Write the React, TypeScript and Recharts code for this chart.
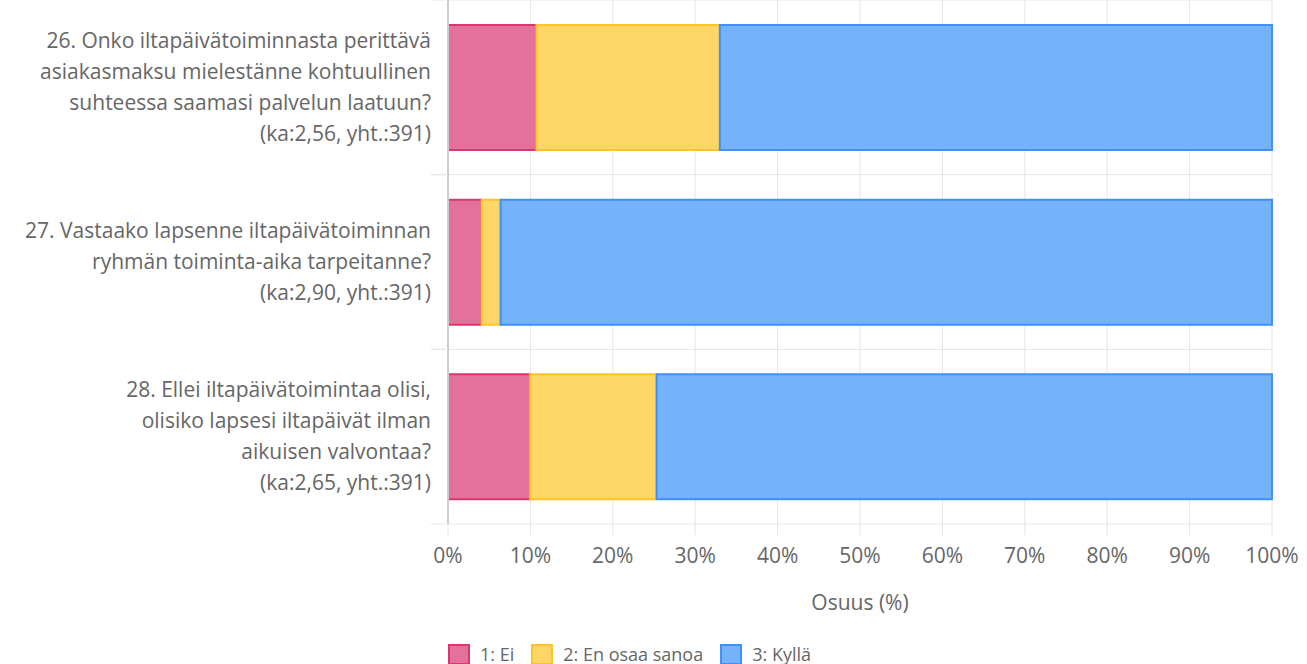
import React from 'react';
import { BarChart, Bar, XAxis, YAxis, CartesianGrid, Legend } from 'recharts';

const questions = [
  ['26. Onko iltapäivätoiminnasta perittävä', 'asiakasmaksu mielestänne kohtuullinen', 'suhteessa saamasi palvelun laatuun?', '(ka:2,56, yht.:391)'],
  ['27. Vastaako lapsenne iltapäivätoiminnan', 'ryhmän toiminta-aika tarpeitanne?', '(ka:2,90, yht.:391)'],
  ['28. Ellei iltapäivätoimintaa olisi,', 'olisiko lapsesi iltapäivät ilman', 'aikuisen valvontaa?', '(ka:2,65, yht.:391)'],
];
const ei = [10.74, 4.09, 9.97];
const enOsaa = [22.25, 2.3, 15.35];
const kylla = [67.01, 93.61, 74.68];
const seriesNames = ['1: Ei', '2: En osaa sanoa', '3: Kyllä'];
const xTicks = [0, 10, 20, 30, 40, 50, 60, 70, 80, 90, 100];

const fills = ['#e3719c', '#fed567', '#74b3fc'];
const strokes = ['#d9376e', '#fcc526', '#3f8ffc'];

const CHART_W = 1307;
const CHART_H = 664;
const X_AXIS_H = 140;
const MARGIN_TOP = 0;
const PLOT_H = CHART_H - X_AXIS_H - MARGIN_TOP;
const FONT = '"Open Sans", sans-serif';

const data = questions.map((q, i) => ({
  name: String(i),
  ei: ei[i],
  en: enOsaa[i],
  kylla: kylla[i],
}));

const CategoryTick = (props: any) => {
  const { x, y, payload } = props;
  const lines = questions[Number(payload.value)] || [];
  const band = PLOT_H / questions.length;
  const lh = 31;
  const n = lines.length;
  return (
    <g>
      <line x1={x} x2={x + 17} y1={y - band / 2} y2={y - band / 2} stroke="#e6e6e6" strokeWidth={1} />
      <line x1={x} x2={x + 17} y1={y + band / 2} y2={y + band / 2} stroke="#e6e6e6" strokeWidth={1} />
      <text x={x} y={y} textAnchor="end" fill="#666" fontSize={21} fontFamily={FONT}>
        {lines.map((l, i) => (
          <tspan key={i} x={x} y={y + (i - (n - 1) / 2) * lh + 7}>
            {l}
          </tspan>
        ))}
      </text>
    </g>
  );
};

const LegendContent = () => (
  <div style={{ display: 'flex', alignItems: 'center', fontFamily: FONT, fontSize: 18, color: '#666' }}>
    {seriesNames.map((s, i) => (
      <div key={s} style={{ display: 'flex', alignItems: 'center', marginRight: 17 }}>
        <div
          style={{
            width: 22,
            height: 21,
            boxSizing: 'border-box',
            background: fills[i],
            border: `2px solid ${strokes[i]}`,
            marginRight: 10,
          }}
        />
        <span>{s}</span>
      </div>
    ))}
  </div>
);

export default function App() {
  return (
    <div style={{ position: 'absolute', left: 0, top: 0, fontFamily: FONT }}>
      <BarChart
        width={CHART_W}
        height={CHART_H}
        data={data}
        layout="vertical"
        margin={{ top: MARGIN_TOP, right: 35, bottom: 0, left: 0 }}
      >
        <CartesianGrid
          stroke="#e6e6e6"
          vertical={true}
          horizontal={true}
          horizontalCoordinatesGenerator={({ offset }: any) =>
            Array.from({ length: questions.length + 1 }, (_, i) => offset.top + (i * offset.height) / questions.length)
          }
        />
        <XAxis
          type="number"
          domain={[0, 100]}
          ticks={xTicks}
          tickFormatter={(v: number) => `${v}%`}
          height={X_AXIS_H}
          axisLine={false}
          tickLine={{ stroke: '#e6e6e6' }}
          tickSize={11}
          tickMargin={13}
          tick={{ fill: '#666', fontSize: 21, fontFamily: FONT }}
          interval={0}
          label={{ value: 'Osuus (%)', position: 'insideBottom', offset: 54, fill: '#666', fontSize: 21, fontFamily: FONT }}
        />
        <YAxis
          type="category"
          dataKey="name"
          width={448}
          axisLine={{ stroke: '#ccc', strokeWidth: 2 }}
          tickLine={false}
          tickSize={0}
          tickMargin={17}
          tick={<CategoryTick />}
          interval={0}
        />
        <Bar dataKey="ei" stackId="a" barSize={125} fill={fills[0]} stroke={strokes[0]} strokeWidth={2} isAnimationActive={false} />
        <Bar dataKey="en" stackId="a" barSize={125} fill={fills[1]} stroke={strokes[1]} strokeWidth={2} isAnimationActive={false} />
        <Bar dataKey="kylla" stackId="a" barSize={125} fill={fills[2]} stroke={strokes[2]} strokeWidth={2} isAnimationActive={false} />
        <Legend
          layout="horizontal"
          verticalAlign="middle"
          align="center"
          content={<LegendContent />}
          wrapperStyle={{ top: 642, left: 448, width: 500, height: 22 }}
        />
      </BarChart>
    </div>
  );
}
